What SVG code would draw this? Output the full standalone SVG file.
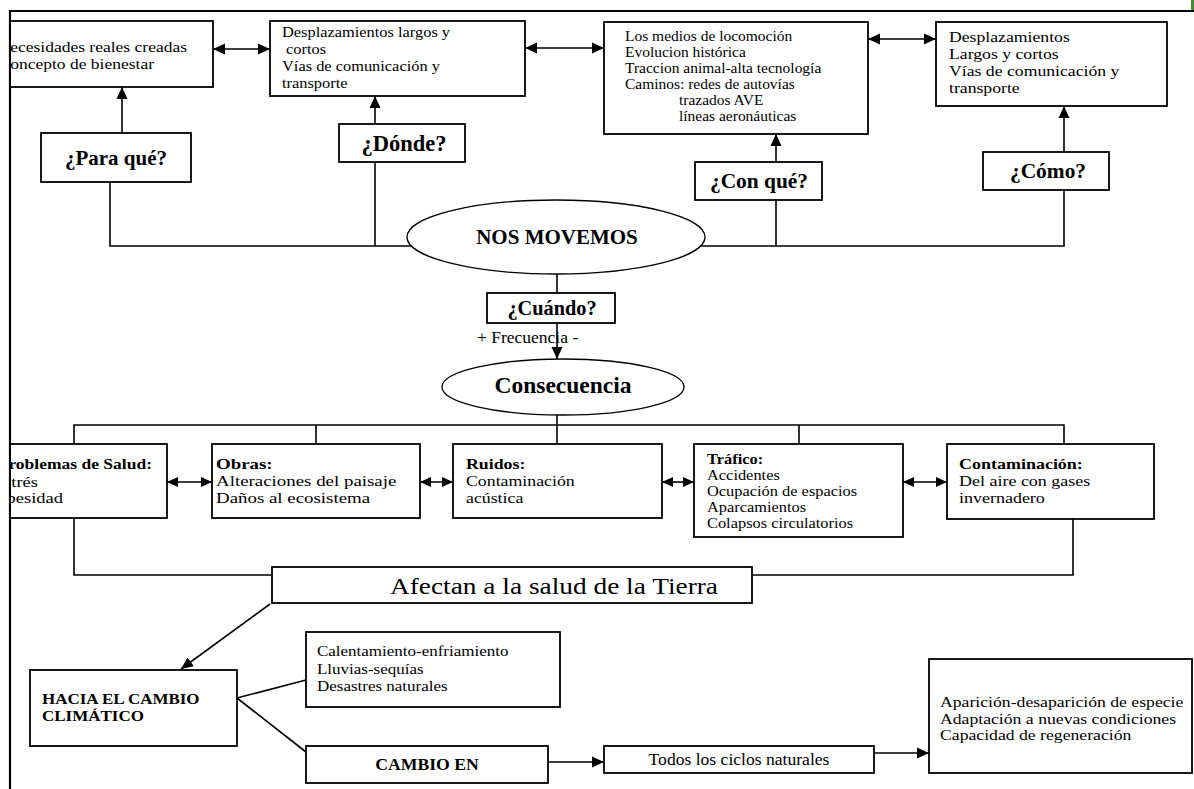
<svg xmlns="http://www.w3.org/2000/svg" width="1194" height="789" viewBox="0 0 1194 789">
  <defs>
    <marker id="ah" viewBox="0 0 12 12" refX="12" refY="6" markerWidth="12" markerHeight="12" markerUnits="userSpaceOnUse" orient="auto-start-reverse">
      <path d="M0,0.5 L12,6 L0,11.5 Z" fill="#000"/>
    </marker>
    <marker id="ahs" viewBox="0 0 11 10" refX="11" refY="5" markerWidth="11" markerHeight="10" markerUnits="userSpaceOnUse" orient="auto-start-reverse">
      <path d="M0,0 L11,5 L0,10 Z" fill="#000"/>
    </marker>
    <clipPath id="inside">
      <rect x="11" y="0" width="1183" height="789"/>
    </clipPath>
  </defs>
  <style>
    .box { fill: #fff; stroke: #000; stroke-width: 1.8; }
    .oval { fill: #fff; stroke: #000; stroke-width: 1.3; }
    .ln { fill: none; stroke: #000; stroke-width: 1.6; }
    .arr { fill: none; stroke: #000; stroke-width: 1.6; marker-end: url(#ah); }
    .dbl { fill: none; stroke: #000; stroke-width: 1.6; marker-start: url(#ah); marker-end: url(#ah); }
    .dbls { fill: none; stroke: #000; stroke-width: 1.6; marker-start: url(#ahs); marker-end: url(#ahs); }
    text { font-family: "Liberation Serif", "Times New Roman", serif; fill: #000; }
    .b { font-weight: bold; }
    .q { font-weight: bold; text-anchor: middle; }
    .e { text-anchor: end; }
  </style>

  <rect width="1194" height="789" fill="#fff"/>

  <!-- page frame -->
  <g id="frame">
    <line x1="9" y1="11" x2="1194" y2="11" stroke="#000" stroke-width="2.2"/>
    <line x1="10" y1="10" x2="10" y2="789" stroke="#000" stroke-width="2.2"/>
    <rect x="1191" y="0" width="3" height="10" fill="#3f8f2f"/>
  </g>

  <!-- connectors -->
  <g id="connectors">
    <line class="dbl" x1="213" y1="49" x2="270" y2="49"/>
    <line class="dbl" x1="525" y1="48" x2="604" y2="48"/>
    <line class="dbl" x1="868" y1="39" x2="936" y2="39"/>

    <line class="arr" x1="122" y1="133" x2="122" y2="87"/>
    <line class="arr" x1="375" y1="124" x2="375" y2="96"/>
    <line class="arr" x1="776" y1="162" x2="776" y2="134"/>
    <line class="arr" x1="1064" y1="152" x2="1064" y2="106"/>

    <path class="ln" d="M110,182 V246 H411"/>
    <path class="ln" d="M375,162 V246"/>
    <path class="ln" d="M700,246 H1064 V190"/>
    <path class="ln" d="M776,200 V246"/>

    <path class="ln" d="M557,274 V293"/>
    <line class="arr" x1="557" y1="323" x2="557" y2="359"/>

    <path class="ln" d="M557,415 V444"/>
    <path class="ln" d="M74,444 V425 H1064 V444"/>
    <path class="ln" d="M316,425 V444"/>
    <path class="ln" d="M799,425 V444"/>

    <line class="dbls" x1="167" y1="482" x2="212" y2="482"/>
    <line class="dbls" x1="420" y1="482" x2="453" y2="482"/>
    <line class="dbls" x1="662" y1="482" x2="694" y2="482"/>
    <line class="dbls" x1="903" y1="482" x2="947" y2="482"/>

    <path class="ln" d="M74,518 V575 H272"/>
    <path class="ln" d="M1073,519 V575 H752"/>

    <line class="arr" x1="270" y1="604" x2="181" y2="669"/>
    <path class="ln" d="M237,698 L306,680"/>
    <path class="ln" d="M237,698 L306,752"/>

    <line class="arr" x1="548" y1="762" x2="604" y2="762"/>
    <line class="arr" x1="874" y1="753" x2="929" y2="753"/>
  </g>

  <!-- top row -->
  <g id="necesidades" clip-path="url(#inside)">
    <rect class="box" x="-20" y="21" width="233" height="66"/>
    <text class="e" transform="translate(187 0) scale(1.167 1)" x="0" y="52" font-size="15">ecesidades reales creadas</text>
    <text class="e" transform="translate(154 0) scale(1.167 1)" x="0" y="69" font-size="15">oncepto de bienestar</text>
  </g>

  <g id="donde-detalle">
    <rect class="box" x="270" y="21" width="255" height="75"/>
    <text transform="translate(282 0) scale(1.093 1)" font-size="15">
      <tspan x="0" y="37">Desplazamientos largos y</tspan>
      <tspan x="3.7" y="54">cortos</tspan>
      <tspan x="0" y="71">Vías de comunicación y</tspan>
      <tspan x="0" y="88">transporte</tspan>
    </text>
  </g>

  <g id="medios">
    <rect class="box" x="604" y="22" width="264" height="112"/>
    <text transform="translate(625 0) scale(1.107 1)" font-size="14">
      <tspan x="0" y="41">Los medios de locomoción</tspan>
      <tspan x="0" y="57">Evolucion histórica</tspan>
      <tspan x="0" y="73">Traccion animal-alta tecnología</tspan>
      <tspan x="0" y="89">Caminos: redes de autovías</tspan>
      <tspan x="48.8" y="105">trazados AVE</tspan>
      <tspan x="48.8" y="121">líneas aeronáuticas</tspan>
    </text>
  </g>

  <g id="como-detalle">
    <rect class="box" x="936" y="22" width="231" height="84"/>
    <text transform="translate(949 0) scale(1.18 1)" font-size="15">
      <tspan x="0" y="42">Desplazamientos</tspan>
      <tspan x="0" y="59">Largos y cortos</tspan>
      <tspan x="0" y="76">Vías de comunicación y</tspan>
      <tspan x="0" y="93">transporte</tspan>
    </text>
  </g>

  <!-- questions -->
  <g id="para-que">
    <rect class="box" x="41" y="133" width="150" height="49"/>
    <text class="q" x="116" y="165" font-size="21">¿Para qué?</text>
  </g>
  <g id="donde">
    <rect class="box" x="339" y="124" width="126" height="38"/>
    <text class="q" x="404" y="151" font-size="22.5">¿Dónde?</text>
  </g>
  <g id="con-que">
    <rect class="box" x="695" y="162" width="127" height="38"/>
    <text class="q" x="759" y="188" font-size="21.4">¿Con qué?</text>
  </g>
  <g id="como">
    <rect class="box" x="983" y="152" width="126" height="38"/>
    <text class="q" x="1048" y="178" font-size="21.4">¿Cómo?</text>
  </g>

  <g id="nos-movemos">
    <ellipse class="oval" cx="556" cy="237" rx="149" ry="37"/>
    <text class="q" x="557" y="244" font-size="21">NOS MOVEMOS</text>
  </g>

  <g id="cuando">
    <rect class="box" x="487" y="293" width="128" height="30"/>
    <text class="q" x="552" y="315" font-size="20.3">¿Cuándo?</text>
  </g>
  <text id="frecuencia" x="477" y="343" font-size="17.5">+ Frecuencia -</text>

  <g id="consecuencia">
    <ellipse class="oval" cx="563" cy="387" rx="121" ry="28"/>
    <text class="q" x="563" y="393" font-size="23.5">Consecuencia</text>
  </g>

  <!-- consequences row -->
  <g id="salud" clip-path="url(#inside)">
    <rect class="box" x="-20" y="444" width="187" height="74"/>
    <text class="b e" transform="translate(152 0) scale(1.167 1)" x="0" y="469" font-size="15">roblemas de Salud:</text>
    <text class="e" transform="translate(38 0) scale(1.233 1)" x="0" y="487" font-size="15">trés</text>
    <text class="e" transform="translate(63 0) scale(1.233 1)" x="0" y="503" font-size="15">besidad</text>
  </g>

  <g id="obras">
    <rect class="box" x="212" y="444" width="208" height="74"/>
    <text transform="translate(216 0) scale(1.26 1)" font-size="15">
      <tspan class="b" x="0" y="469">Obras:</tspan>
      <tspan x="0" y="486">Alteraciones del paisaje</tspan>
      <tspan x="0" y="503">Daños al ecosistema</tspan>
    </text>
  </g>

  <g id="ruidos">
    <rect class="box" x="453" y="444" width="209" height="74"/>
    <text transform="translate(466 0) scale(1.187 1)" font-size="15">
      <tspan class="b" x="0" y="469">Ruidos:</tspan>
      <tspan x="0" y="486">Contaminación</tspan>
      <tspan x="0" y="503">acústica</tspan>
    </text>
  </g>

  <g id="trafico">
    <rect class="box" x="694" y="444" width="209" height="93"/>
    <text transform="translate(707 0) scale(1.171 1)" font-size="14">
      <tspan class="b" x="0" y="464">Tráfico:</tspan>
      <tspan x="0" y="480">Accidentes</tspan>
      <tspan x="0" y="496">Ocupación de espacios</tspan>
      <tspan x="0" y="512">Aparcamientos</tspan>
      <tspan x="0" y="528">Colapsos circulatorios</tspan>
    </text>
  </g>

  <g id="contaminacion">
    <rect class="box" x="947" y="444" width="207" height="75"/>
    <text transform="translate(959 0) scale(1.2 1)" font-size="15">
      <tspan class="b" x="0" y="469">Contaminación:</tspan>
      <tspan x="0" y="486">Del aire con gases</tspan>
      <tspan x="0" y="503">invernadero</tspan>
    </text>
  </g>

  <g id="afectan">
    <rect class="box" x="272" y="567" width="480" height="36"/>
    <text transform="translate(390 0) scale(1.14 1)" x="0" y="594" font-size="24">Afectan a la salud de la Tierra</text>
  </g>

  <!-- climate change branch -->
  <g id="hacia-cambio">
    <rect class="box" x="30" y="670" width="207" height="76"/>
    <text class="b" transform="translate(42 0) scale(1.133 1)" font-size="15">
      <tspan x="0" y="704">HACIA EL CAMBIO</tspan>
      <tspan x="0" y="721">CLIMÁTICO</tspan>
    </text>
  </g>

  <g id="efectos-clima">
    <rect class="box" x="306" y="632" width="254" height="75"/>
    <text transform="translate(317 0) scale(1.133 1)" font-size="15">
      <tspan x="0" y="656">Calentamiento-enfriamiento</tspan>
      <tspan x="0" y="674">Lluvias-sequías</tspan>
      <tspan x="0" y="691">Desastres naturales</tspan>
    </text>
  </g>

  <g id="cambio-en">
    <rect class="box" x="306" y="746" width="242" height="37"/>
    <text class="q" transform="translate(427 0) scale(1.106 1)" x="0" y="770" font-size="16">CAMBIO EN</text>
  </g>

  <g id="ciclos">
    <rect class="box" x="604" y="746" width="270" height="27"/>
    <text transform="translate(739 0) scale(1.1 1)" x="0" y="765" font-size="16" text-anchor="middle">Todos los ciclos naturales</text>
  </g>

  <g id="especies">
    <rect class="box" x="929" y="659" width="263" height="114"/>
    <text transform="translate(940 0) scale(1.22 1)" font-size="14.5">
      <tspan x="0" y="707">Aparición-desaparición de especie</tspan>
      <tspan x="0" y="724">Adaptación a nuevas condiciones</tspan>
      <tspan x="0" y="740">Capacidad de regeneración</tspan>
    </text>
  </g>
</svg>
